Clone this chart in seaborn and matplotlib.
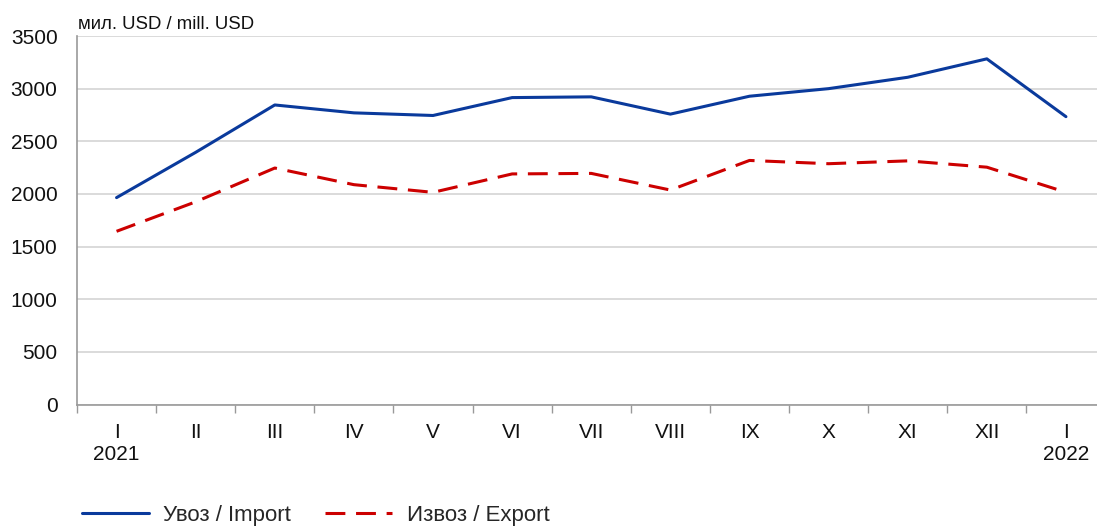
import numpy as np
import pandas as pd
import matplotlib
matplotlib.use("Agg")
import matplotlib.pyplot as plt
import matplotlib.transforms as mtrans
from matplotlib.lines import Line2D
import seaborn as sns

months = ["I", "II", "III", "IV", "V", "VI", "VII", "VIII", "IX", "X", "XI", "XII", "I"]
years = {0: "2021", 12: "2022"}
import_vals = [1965, 2395, 2845, 2770, 2745, 2915, 2922, 2758, 2928, 3000, 3108, 3283, 2734]
export_vals = [1645, 1925, 2246, 2088, 2015, 2190, 2195, 2037, 2318, 2287, 2314, 2254, 2016]
series_names = ["Увоз / Import", "Извоз / Export"]
unit_label = "мил. USD / mill. USD"

sns.set_theme(style="white")
plt.rcParams["font.family"] = ["Liberation Sans", "DejaVu Sans"]

BLUE = "#0a3a9c"
RED = "#cc0000"
W, H = 1097, 529
fig = plt.figure(figsize=(W / 100, H / 100), dpi=100)
ax = fig.add_axes([77 / W, 1 - 404.5 / H, (1105.5 - 77) / W, (404.5 - 36) / H])

pos = np.arange(len(months))
df = pd.DataFrame({
    "pos": np.concatenate([pos, pos]),
    "value": import_vals + export_vals,
    "series": [series_names[0]] * len(pos) + [series_names[1]] * len(pos),
})

sns.lineplot(data=df, x="pos", y="value", hue="series", style="series",
             palette={series_names[0]: BLUE, series_names[1]: RED},
             dashes={series_names[0]: "", series_names[1]: (6.5, 3.5)},
             linewidth=2.2, ax=ax, legend=False)

ax.set_xlim(-0.5, len(months) - 0.5)
ax.set_ylim(0, 3500)
ax.set_yticks(np.arange(0, 3501, 500))
ax.yaxis.grid(True, color="#d4d4d4", linewidth=1.2)
ax.xaxis.grid(False)
ax.set_xlabel("")
ax.set_ylabel("")

# x ticks at category boundaries, labels at centers
ax.set_xticks(np.arange(-0.5, len(months), 1.0))
ax.set_xticklabels([])
ax.set_xticks(pos, minor=True)
ax.set_xticklabels(months, minor=True)
ax.tick_params(axis="x", which="major", direction="out", length=6, width=1, color="#999999", bottom=True)
ax.tick_params(axis="x", which="minor", length=0, pad=13, labelsize=15, labelcolor="#111111")
ax.tick_params(axis="y", length=0, pad=14, labelsize=15, labelcolor="#111111")

for s in ["top", "right"]:
    ax.spines[s].set_visible(False)
for s in ["left", "bottom"]:
    ax.spines[s].set_color("#999999")
    ax.spines[s].set_linewidth(1.2)

trans = mtrans.blended_transform_factory(ax.transData, fig.transFigure)
for i, yr in years.items():
    ax.text(i, 1 - 454 / H, yr, transform=trans, ha="center", va="center",
            fontsize=15, color="#111111")

fig.text(78 / W, 1 - 24.5 / H, unit_label, ha="left", va="center", fontsize=13.4, color="#111111")

handles = [Line2D([], [], color=BLUE, linewidth=2.2),
           Line2D([], [], color=RED, linewidth=2.2, dashes=(6.5, 3.5))]
fig.legend(handles, series_names, loc="center left", bbox_to_anchor=(82 / W, 1 - 515.5 / H),
           ncol=2, frameon=False, fontsize=16, handlelength=3.0, handletextpad=0.65,
           columnspacing=1.55, borderpad=0, borderaxespad=0)

fig.savefig("out.png", dpi=100)
